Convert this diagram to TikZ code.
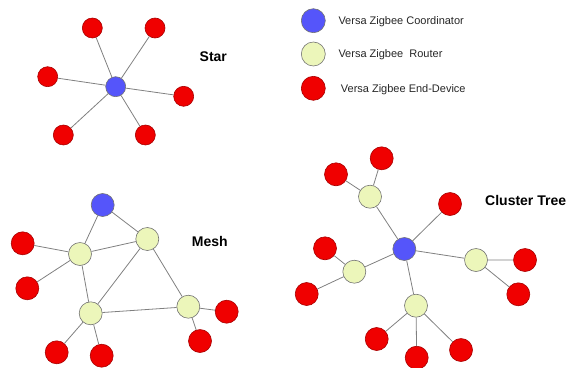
\documentclass[tikz,border=0pt]{standalone}
\usepackage{fontspec}
\setmainfont{Liberation Sans}
\begin{document}
\begin{tikzpicture}[x=1pt,y=-1pt,
  dev/.style={circle,draw=black!55,line width=0.6pt,inner sep=0pt,minimum size=23pt},
  coord/.style={dev,fill=zbblue},
  router/.style={dev,fill=zbyellow},
  enddev/.style={dev,fill=zbred,draw=zbred!70!black},
  small/.style={minimum size=20pt},
  link/.style={draw=black!50,line width=0.8pt},
  title/.style={font=\bfseries\fontsize{14}{16}\selectfont,anchor=west,inner sep=0pt},
  legtext/.style={font=\fontsize{11}{13}\selectfont,anchor=west,inner sep=0pt,text=black!85}]
\definecolor{zbblue}{RGB}{85,85,250}
\definecolor{zbyellow}{RGB}{236,246,186}
\definecolor{zbred}{RGB}{240,0,0}
\useasboundingbox (0,0) rectangle (569,367);

% ---- Legend ----
\node[coord,minimum size=24pt] (lc) at (313.3,20.7) {};
\node[router,minimum size=24pt] (lr) at (313.3,54) {};
\node[enddev,minimum size=24pt] (le) at (313.3,88.3) {};
\node[legtext] (tc) at (338.3,21.5) {Versa Zigbee Coordinator};
\node[legtext] (tr) at (338.3,55) {Versa Zigbee\ \ Router};
\node[legtext] (te) at (340.7,89.5) {Versa Zigbee End-Device};

% ---- Star ----
\node[coord,small] (sc) at (115.7,86.7) {};
\node[enddev,small] (s1) at (92.3,28) {};
\node[enddev,small] (s2) at (155,28) {};
\node[enddev,small] (s3) at (47.7,76.7) {};
\node[enddev,small] (s4) at (183.7,96.3) {};
\node[enddev,small] (s5) at (63.3,135) {};
\node[enddev,small] (s6) at (145.3,135) {};
\foreach \n in {s1,s2,s3,s4,s5,s6} \path[link] (sc) -- (\n);
\node[title] (star) at (199.5,57) {Star};

% ---- Mesh ----
\node[coord] (mc) at (102.7,205) {};
\node[router] (ma) at (80,254) {};
\node[router] (mb) at (147.3,239) {};
\node[router] (mcc) at (90.7,313.3) {};
\node[router] (md) at (188.3,306.7) {};
\node[enddev] (m1) at (22.7,243.3) {};
\node[enddev] (m2) at (27.3,288.3) {};
\node[enddev] (m3) at (56.7,352.3) {};
\node[enddev] (m4) at (101.7,355.7) {};
\node[enddev] (m5) at (226.7,311.7) {};
\node[enddev] (m6) at (200,341) {};
\path[link] (mc) -- (ma) (mc) -- (mb) (ma) -- (mb) (ma) -- (mcc)
  (mb) -- (mcc) (mb) -- (md) (mcc) -- (md)
  (ma) -- (m1) (ma) -- (m2) (mcc) -- (m3) (mcc) -- (m4)
  (md) -- (m5) (md) -- (m6);
\node[title] (mesh) at (191.7,241) {Mesh};

% ---- Cluster tree ----
\node[coord] (tcn) at (404.3,249) {};
\node[router] (y1) at (370,196.7) {};
\node[router] (y2) at (476,260) {};
\node[router] (y3) at (354.3,271.7) {};
\node[router] (y4) at (416,305.7) {};
\node[enddev] (c0) at (450,204) {};
\node[enddev] (c1) at (381.7,158.3) {};
\node[enddev] (c2) at (336,174.3) {};
\node[enddev] (c3) at (525,260) {};
\node[enddev] (c4) at (518.3,294.3) {};
\node[enddev] (c5) at (325,248.3) {};
\node[enddev] (c6) at (306.7,294) {};
\node[enddev] (c7) at (376.7,339) {};
\node[enddev] (c8) at (416.7,357.7) {};
\node[enddev] (c9) at (461,350) {};
\path[link] (tcn) -- (y1) (tcn) -- (y2) (tcn) -- (y3) (tcn) -- (y4) (tcn) -- (c0)
  (y1) -- (c1) (y1) -- (c2) (y2) -- (c3) (y2) -- (c4)
  (y3) -- (c5) (y3) -- (c6) (y4) -- (c7) (y4) -- (c8) (y4) -- (c9);
\node[title] (tree) at (485,200.7) {Cluster Tree};
\end{tikzpicture}
\end{document}
